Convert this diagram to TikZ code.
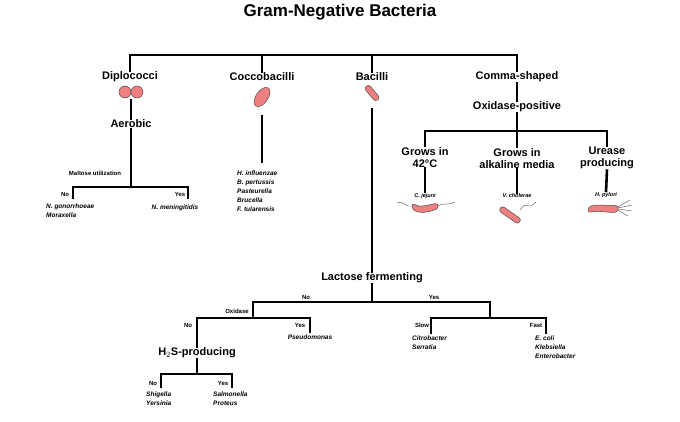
\documentclass[tikz,border=0pt]{standalone}
\usepackage{fontspec}
\setmainfont{Liberation Sans}
\usetikzlibrary{positioning, calc}
\definecolor{cellFill}{RGB}{240, 128, 128}
\tikzstyle{line} = [line width=2.6pt]
\tikzstyle{head} = [font=\bfseries\fontsize{11}{12}\selectfont, inner sep=0pt, align=center]
\tikzstyle{small} = [font=\bfseries\fontsize{6}{7}\selectfont, inner sep=0pt]
\tikzstyle{species} = [font=\bfseries\itshape\fontsize{6.5}{9}\selectfont, inner sep=0pt, align=left]
\tikzstyle{cell} = [draw=black!70, fill=cellFill, line width=0.5pt]
\tikzstyle{flag} = [draw=black!70, line width=0.4pt]

\begin{document}
\begin{tikzpicture}[x=1pt, y=-1pt]
\useasboundingbox (0,0) rectangle (680,422);

\node (title) [font=\bfseries\fontsize{17}{18}\selectfont] at (340,12) {Gram-Negative Bacteria};

% top level
\coordinate (topL) at (130,55);
\coordinate (topR) at (517,55);
\node (diplo) [head] at (130,77) {Diplococci};
\node (cocco) [head] at (262,77) {Coccobacilli};
\node (bacil) [head] at (372,77) {Bacilli};
\node (comma) [head] at (517,77) {Comma-shaped};
\draw [line] (diplo.north) -- (topL) -- (topR) -- (comma.north);
\draw [line] (cocco.north) -- (cocco.north |- topL);
\draw [line] (bacil.north) -- (bacil.north |- topL);

% diplococci
\draw [cell] (125,92) circle (6);
\draw [cell] (137,92) circle (6);
\coordinate (diploCell) at (131,99);
\node (aerobic) [head] at (131,124) {Aerobic};
\draw [line] (diploCell) -- (aerobic.north);
\coordinate (maltose) at (131,187);
\node (maltLbl) [small] at (95,173) {Maltose utilization};
\draw [line] (aerobic.south) -- (maltose);
\coordinate (maltNo) at (73,187);
\coordinate (maltYes) at (188,187);
\node (ngon) [species, anchor=north west] at (46,204) {N. gonorrhoeae\\Moraxella};
\node (nmen) [species] at (175,208) {N. meningitidis};
\draw [line] ($(maltNo)+(0,12)$) -- (maltNo) -- (maltYes) -- ($(maltYes)+(0,12)$);
\node (maltNoLbl) [small] at (65,194) {No};
\node (maltYesLbl) [small] at (180,194) {Yes};

% coccobacilli
\draw [cell, rotate around={55:(262,97)}] (262,97) ellipse (11 and 6);
\node (coccoList) [species, anchor=north west] at (237,171) {H. influenzae\\B. pertussis\\Pasteurella\\Brucella\\F. tularensis};
\coordinate (coccoCell) at (262,115);
\draw [line] (coccoCell) -- (262,163);

% bacilli
\draw [cell, rounded corners=3pt, rotate around={-50:(372,93)}] (363,90) rectangle (381,96);
\coordinate (bacilCell) at (372,108);
\node (lactose) [head] at (372,278) {Lactose fermenting};
\draw [line] (bacilCell) -- (lactose.north);
\coordinate (lacJ) at (372,302);
\draw [line] (lactose.south) -- (lacJ);
\coordinate (lacNo) at (253,302);
\coordinate (lacYes) at (490,302);
\draw [line] ($(lacNo)+(0,16)$) -- (lacNo) -- (lacYes) -- ($(lacYes)+(0,16)$);
\node (lacNoLbl) [small] at (306,297) {No};
\node (lacYesLbl) [small] at (434,297) {Yes};

% oxidase branch
\node (oxLbl) [small] at (237,311) {Oxidase};
\coordinate (oxNo) at (197,318);
\coordinate (oxYes) at (310,318);
\node (h2s) [head] at (197,353) {H$_2$S-producing};
\node (pseudo) [species, anchor=north] at (310,335) {Pseudomonas};
\draw [line] (h2s.north) -- (oxNo) -- (oxYes) -- ($(oxYes)+(0,15)$);
\node (oxNoLbl) [small] at (188,325) {No};
\node (oxYesLbl) [small] at (300,325) {Yes};
\coordinate (hNo) at (161,374);
\coordinate (hYes) at (232,374);
\draw [line] (h2s.south) -- (197,374);
\draw [line] ($(hNo)+(0,14)$) -- (hNo) -- (hYes) -- ($(hYes)+(0,14)$);
\node (hNoLbl) [small] at (153,383) {No};
\node (hYesLbl) [small] at (223,383) {Yes};
\node (shig) [species, anchor=north west] at (146,392) {Shigella\\Yersinia};
\node (salm) [species, anchor=north west] at (213,392) {Salmonella\\Proteus};

% lactose yes branch
\coordinate (slow) at (431,318);
\coordinate (fast) at (546,318);
\draw [line] ($(slow)+(0,16)$) -- (slow) -- (fast) -- ($(fast)+(0,16)$);
\node (slowLbl) [small] at (422,325) {Slow};
\node (fastLbl) [small] at (536,325) {Fast};
\node (citro) [species, anchor=north west] at (412,336) {Citrobacter\\Serratia};
\node (ecoli) [species, anchor=north west] at (535,336) {E. coli\\Klebsiella\\Enterobacter};

% comma-shaped
\node (oxpos) [head] at (517,107) {Oxidase-positive};
\draw [line] (comma.south) -- (oxpos.north);
\coordinate (cJ) at (517,131);
\draw [line] (oxpos.south) -- (cJ);
\node (grow42) [head, anchor=north] at (425,147) {Grows in\\42\textdegree C};
\node (growAlk) [head, anchor=north] at (517,148) {Grows in\\alkaline media};
\node (urease) [head, anchor=north] at (607,147) {Urease\\producing};
\draw [line] (grow42.north) -- (425,131) -- (607,131) -- (urease.north);
\draw [line] (cJ) -- (growAlk.north);
\node (cjej) [species, font=\bfseries\itshape\fontsize{5.5}{6}\selectfont] at (425,196) {C. jejuni};
\node (vchol) [species, font=\bfseries\itshape\fontsize{5.5}{6}\selectfont] at (517,196) {V. cholerae};
\node (hpyl) [species, font=\bfseries\itshape\fontsize{5.5}{6}\selectfont] at (606,195) {H. pylori};
\draw [line] (grow42.south) -- (cjej.north);
\draw [line] (growAlk.south) -- (vchol.north);
\draw [line] (urease.south) -- (hpyl.north);

% spiral cells
\draw [flag] (397,203) .. controls (404,200) and (406,208) .. (412,206);
\draw [flag] (438,206) .. controls (444,202) and (448,206) .. (455,202);
\draw [cell, rounded corners=3pt] (412,203) .. controls (420,208) and (428,205) .. (438,203) -- (438,209) .. controls (428,212) and (420,214) .. (412,209) -- cycle;
\draw [flag] (520,210) .. controls (526,200) and (530,210) .. (536,202);
\draw [cell, rounded corners=3pt, rotate around={-35:(510,215)}] (498,212) rectangle (522,218);
\draw [flag] (618,207) -- (630,200);
\draw [flag] (618,208) -- (632,205);
\draw [flag] (618,209) -- (632,211);
\draw [flag] (618,210) -- (628,216);
\draw [cell, rounded corners=3pt] (588,207) .. controls (598,204) and (608,206) .. (618,205) -- (618,212) .. controls (608,213) and (598,210) .. (588,213) -- cycle;
\end{tikzpicture}
\end{document}
